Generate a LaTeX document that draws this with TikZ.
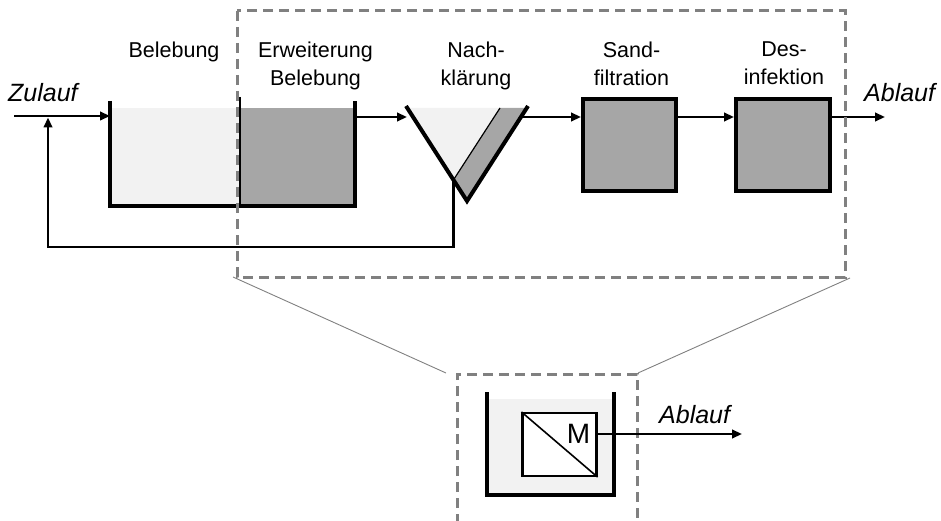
\documentclass[tikz,border=0pt]{standalone}
\usepackage{fontspec}
\setmainfont{Liberation Sans}
\usetikzlibrary{arrows.meta}
\definecolor{lightfill}{HTML}{F2F2F2}
\definecolor{darkfill}{HTML}{A6A6A6}
\definecolor{framegray}{HTML}{808080}

\begin{document}
\begin{tikzpicture}[x=1pt,y=-1pt,
  wall/.style={line width=4pt},
  flow/.style={line width=2.3pt,-{Triangle[length=10pt,width=8.5pt]}},
  stagebox/.style={draw,line width=4pt,fill=darkfill,inner sep=0pt},
  caption/.style={font=\fontsize{21.5}{27.5}\selectfont,align=center,anchor=north,inner sep=0pt},
  io/.style={font=\fontsize{25}{30}\selectfont\itshape,inner sep=0pt,anchor=base west},
  zoomframe/.style={draw=framegray,line width=3pt,dash pattern=on 10pt off 6pt},
  zoomline/.style={draw=framegray,line width=0.9pt}]
\useasboundingbox (0,0) rectangle (941,521);
\clip (0,0) rectangle (941,521);

% --- activated sludge tank (existing + extension) ---
\fill[lightfill] (110,108) rectangle (240,206);
\fill[darkfill] (240,108) rectangle (355,206);
\draw[line width=1.2pt] (240,97) -- (240,206);
\draw[wall] (110,101) -- (110,206) -- (355,206) -- (355,101);
\coordinate (tankIn) at (110,116);
\coordinate (tankOut) at (356,117);

% --- secondary clarifier (cone) ---
\coordinate (coneL) at (406,106);
\coordinate (coneV) at (467,201);
\coordinate (coneR) at (528,106);
\coordinate (sludge) at (453.4,180);
\fill[lightfill] (406,108) -- (500,108) -- (sludge) -- cycle;
\fill[darkfill] (500,108) -- (529,108) -- (coneV) -- (sludge) -- cycle;
\draw[line width=1.2pt] (500,108) -- (sludge);
\draw[wall] (coneL) -- (coneV) -- (coneR);
\coordinate (coneIn) at (407,117);
\coordinate (coneOut) at (522,117);

% --- sand filtration and disinfection ---
\node[stagebox,minimum width=93pt,minimum height=92pt] (sand) at (629.5,145) {};
\node[stagebox,minimum width=94pt,minimum height=92pt] (desinf) at (783,145) {};

% --- captions ---
\node[caption] (capBel) at (174,42) {Belebung};
\node[caption] (capErw) at (315.5,42) {Erweiterung\\Belebung};
\node[caption] (capNach) at (476,42) {Nach-\\klärung};
\node[caption] (capSand) at (631.5,42) {Sand-\\filtration};
\node[caption] (capDes) at (784,42) {Des-\\infektion};
\node[io] (zulauf) at (8,102) {Zulauf};
\node[io] (ablauf) at (864,102) {Ablauf};

% --- flows (all on the line y = 117) ---
\coordinate (zin) at (14,116);
\coordinate (aout) at (885,117);
\draw[flow] (zin) -- (tankIn);
\draw[flow] (tankOut) -- (coneIn);
\draw[flow] (coneOut) -- (coneOut -| sand.west);
\draw[flow] ([yshift=28pt]sand.east) -- ([yshift=28pt]desinf.west);
\draw[flow] ([yshift=28pt]desinf.east) -- (aout);

% return sludge
\coordinate (retLow) at (48,247);
\coordinate (retEnd) at (48,117.5);
\draw[flow] (sludge) |- (retLow) -- (retEnd);

% --- extension frame and zoom ---
\draw[zoomframe] (237,11) rectangle (845,277);
\coordinate (zoomTL) at (233,277);
\coordinate (zoomTR) at (850,278);
\coordinate (detailL) at (446,373);
\coordinate (detailR) at (638,373);
\draw[zoomline] (zoomTL) -- (detailL);
\draw[zoomline] (zoomTR) -- (detailR);
\draw[zoomframe] (457,540) -- (457,374) -- (637,374) -- (637,540);

% --- membrane tank ---
\fill[lightfill] (486.5,399) rectangle (614,495);
\draw[wall] (486.5,392) -- (486.5,495) -- (614,495) -- (614,392);
\node[draw,fill=white,line width=2.2pt,minimum width=74pt,minimum height=63pt,inner sep=0pt] (mem) at (559.5,444.5) {};
\draw[line width=1.6pt] (mem.north west) -- (mem.south east);
\node[font=\fontsize{28}{32}\selectfont,inner sep=0pt,anchor=base] (memM) at (578.5,443) {M};
\coordinate (memEnd) at (742,434);
\draw[flow] ([yshift=10.5pt]mem.east) -- (memEnd);
\node[io] (ablaufM) at (659,423) {Ablauf};
\end{tikzpicture}
\end{document}
